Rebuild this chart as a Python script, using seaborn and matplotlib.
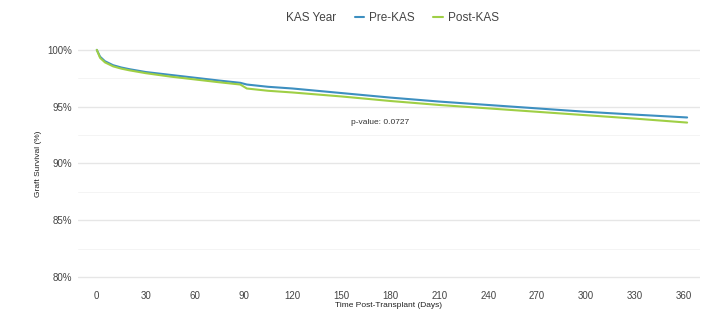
import pandas as pd
import seaborn as sns
import matplotlib.pyplot as plt
from matplotlib.lines import Line2D
from matplotlib.ticker import MultipleLocator, FuncFormatter

# Survival curves
days = [0, 2, 5, 10, 15, 20, 30, 45, 60, 75, 88, 92, 105, 120, 150, 180,
        210, 240, 270, 300, 330, 362]
pre_kas = [100, 99.4, 99.0, 98.65, 98.45, 98.3, 98.05, 97.8, 97.55, 97.3, 97.1,
           96.95, 96.75, 96.6, 96.2, 95.8, 95.45, 95.15, 94.85, 94.55, 94.3, 94.05]
post_kas = [100, 99.3, 98.9, 98.55, 98.35, 98.2, 97.95, 97.65, 97.4, 97.15, 96.95,
            96.6, 96.4, 96.25, 95.9, 95.5, 95.15, 94.85, 94.55, 94.25, 93.95, 93.6]
groups = ["Pre-KAS", "Post-KAS"]
x_ticks = list(range(0, 361, 30))
p_value = "p-value: 0.0727"

df = pd.DataFrame({
    "day": days * 2,
    "surv": pre_kas + post_kas,
    "KAS Year": [groups[0]] * len(days) + [groups[1]] * len(days),
})

colors = {"Pre-KAS": "#3d8fc0", "Post-KAS": "#9fcf45"}

sns.set_theme(style="white")
plt.rcParams["font.family"] = ["Liberation Sans", "DejaVu Sans"]

fig = plt.figure(figsize=(7.13, 3.25), dpi=100)
ax = fig.add_axes([0.109, 0.123, 0.873, 0.748])

sns.lineplot(data=df, x="day", y="surv", hue="KAS Year", palette=colors,
             linewidth=1.5, ax=ax, legend=False)

ax.set_xlim(-11.7, 370)
ax.set_ylim(79.3, 100.7)
ax.set_xticks(x_ticks)
ax.yaxis.set_major_locator(MultipleLocator(5))
ax.yaxis.set_minor_locator(MultipleLocator(2.5))
ax.yaxis.set_major_formatter(FuncFormatter(lambda v, p: f"{v:.0f}%"))
ax.grid(axis="y", which="major", color="#e6e6e6", linewidth=1.0)
ax.grid(axis="y", which="minor", color="#f2f2f2", linewidth=0.6)
ax.set_axisbelow(True)
for s in ax.spines.values():
    s.set_visible(False)
ax.tick_params(axis="both", which="major", labelsize=7, colors="#555555",
               length=2, width=0.6, pad=2)
ax.tick_params(axis="y", which="minor", length=0)
for lab in ax.get_xticklabels() + ax.get_yticklabels():
    lab.set_color("#444444")

ax.set_xlabel("Time Post-Transplant (Days)", fontsize=6, color="#222222", labelpad=1)
ax.set_ylabel("Graft Survival (%)", fontsize=6, color="#222222", labelpad=4)

ax.text(174, 93.65, p_value, fontsize=6, color="#333333", ha="center", va="center")

handles = [Line2D([], [], color="none"),
           Line2D([], [], color=colors["Pre-KAS"], lw=1.5),
           Line2D([], [], color=colors["Post-KAS"], lw=1.5)]
labels = ["KAS Year"] + groups
leg = fig.legend(handles, labels, loc="center", bbox_to_anchor=(0.54, 0.945),
                 ncol=3, frameon=False, fontsize=8.5, handlelength=0.8,
                 handletextpad=0.4, columnspacing=1.6)
for t in leg.get_texts():
    t.set_color("#444444")

fig.savefig("out.png", dpi=100)
